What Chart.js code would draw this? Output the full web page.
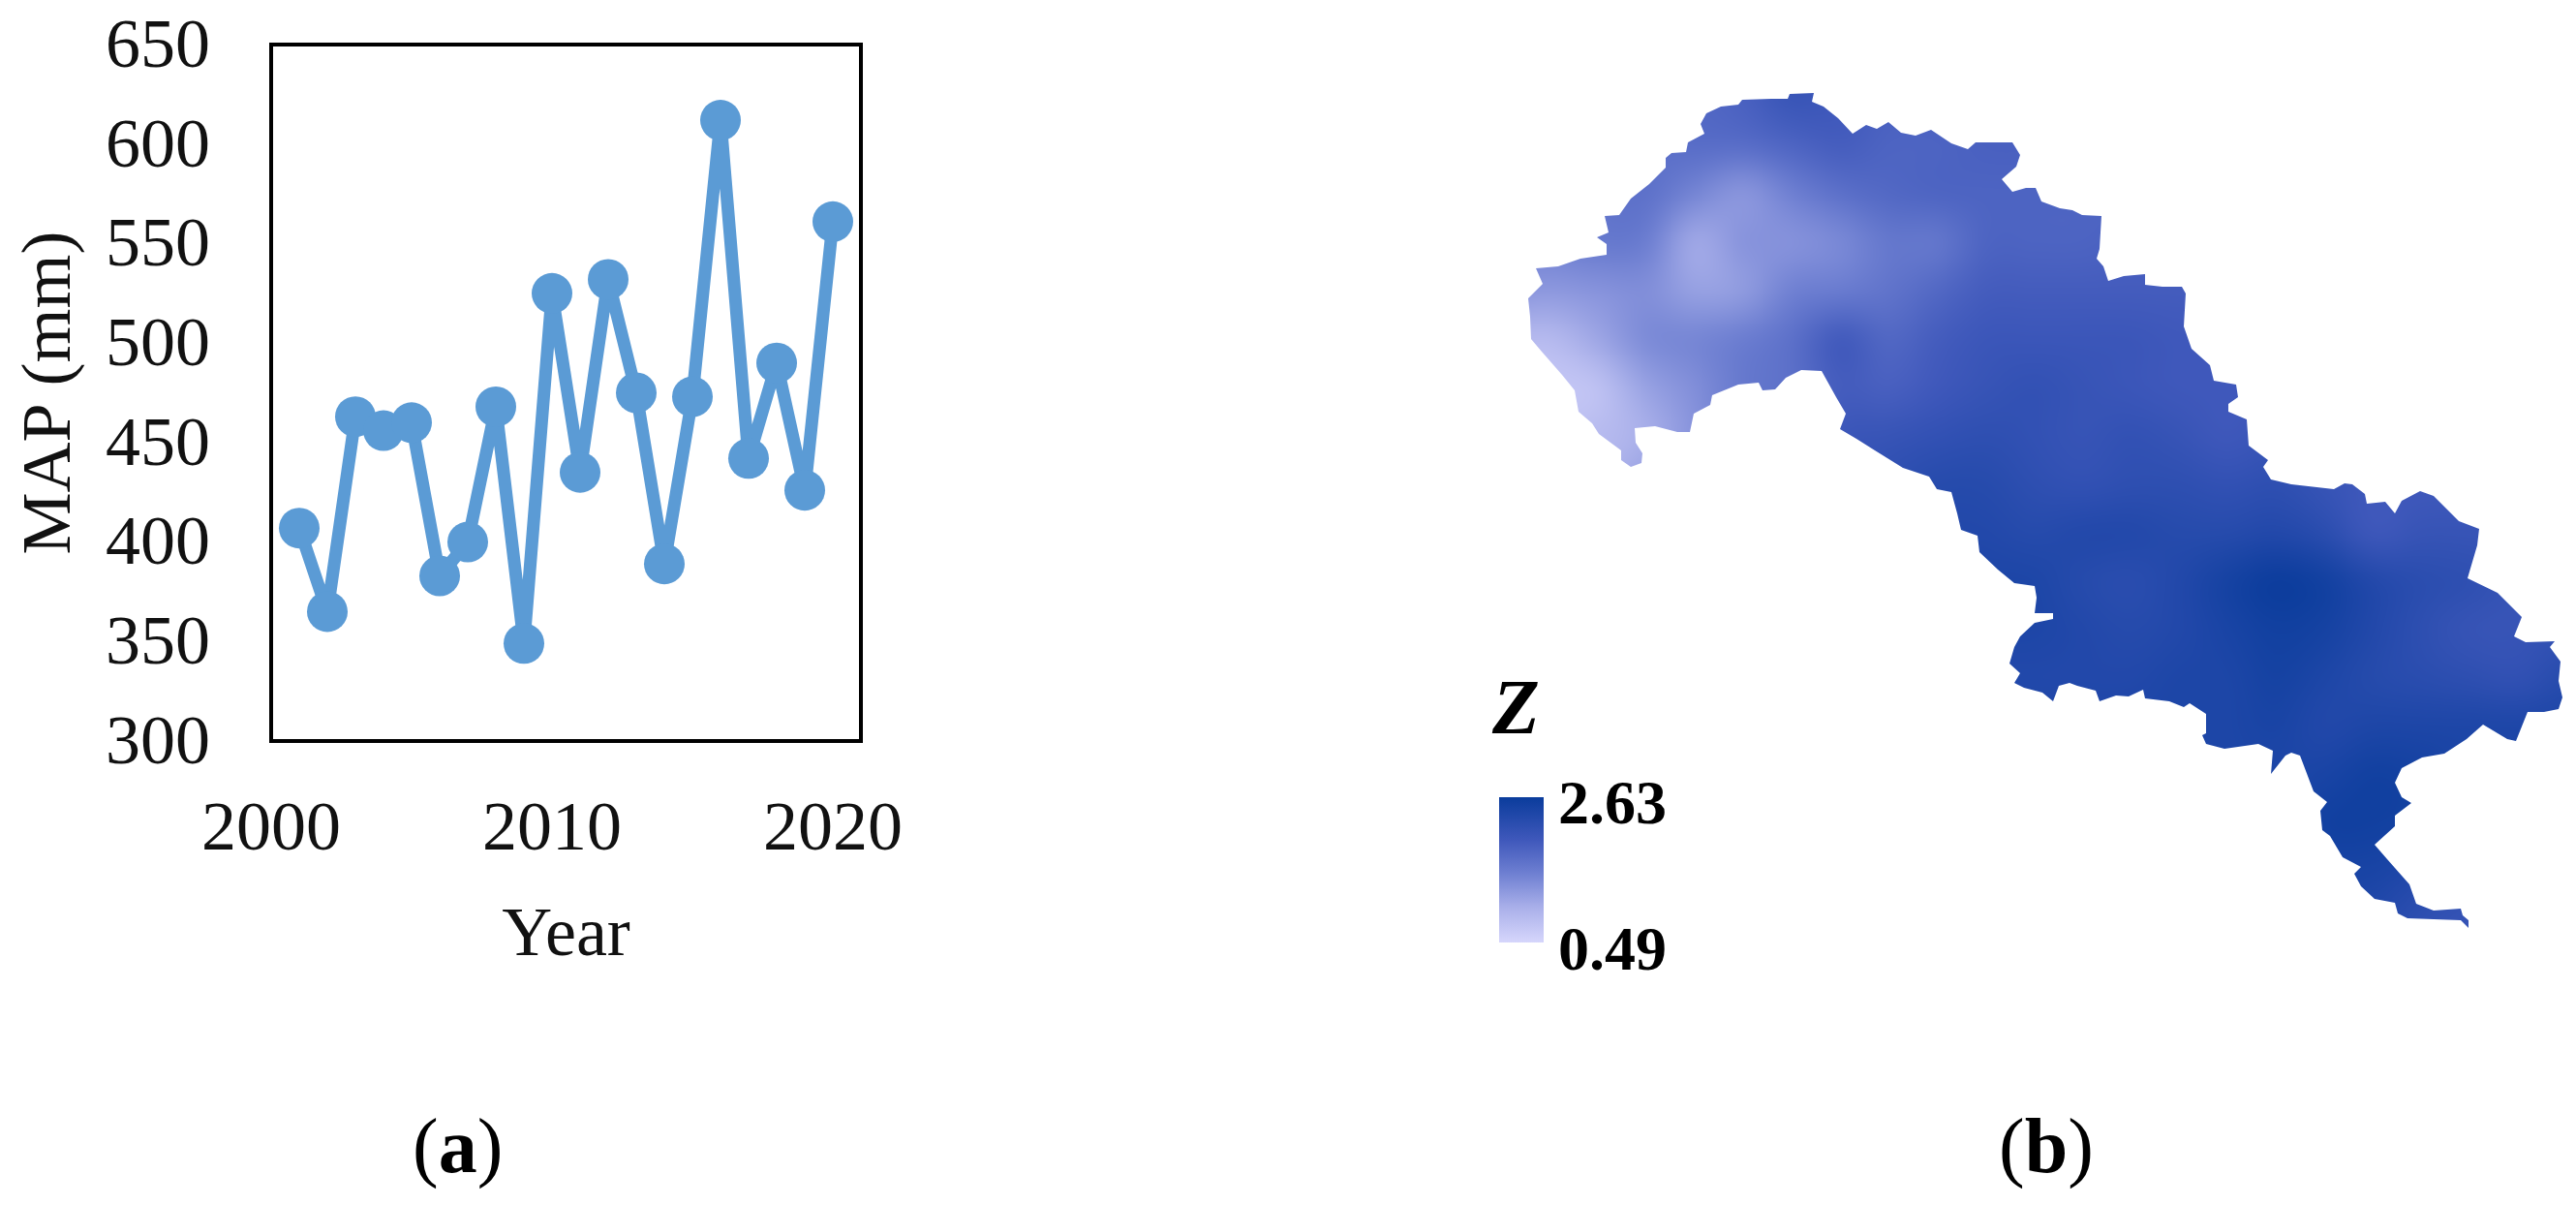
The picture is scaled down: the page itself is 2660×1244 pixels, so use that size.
<!DOCTYPE html>
<html>
<head>
<meta charset="utf-8">
<title>MAP and Z</title>
<script src="https://cdn.jsdelivr.net/npm/chart.js@4"></script>
<style>
  html, body { margin: 0; padding: 0; background: #fff; }
  body { position: relative; width: 2660px; height: 1244px; overflow: hidden; font-family: "Liberation Serif", serif; color: #000; }
  .box { position: absolute; }
  #boxA { left: 0; top: 0; width: 1000px; height: 1010px; }
  #boxB { left: 1500px; top: 60px; width: 1160px; height: 920px; }
  .lbl { position: absolute; line-height: 1; white-space: nowrap; }
  .cap { font-size: 80px; }
  .leg { font-size: 64px; font-weight: bold; }
  #capA { left: 426px; top: 1143px; }
  #capB { left: 2064px; top: 1143px; }
  #zName { left: 1541px; top: 690px; font-size: 80px; font-weight: bold; font-style: italic; }
  #zMax { left: 1609px; top: 797px; }
  #zMin { left: 1609px; top: 948px; }
  #zBar { position: absolute; left: 1548px; top: 823px; width: 46px; height: 150px; }
</style>
</head>
<body>
<div class="box" id="boxA"><canvas id="chartA"></canvas></div>
<div class="box" id="boxB"><canvas id="chartB"></canvas></div>
<div class="lbl cap" id="capA">(<b>a</b>)</div>
<div class="lbl cap" id="capB">(<b>b</b>)</div>
<div class="lbl" id="zName">Z</div>
<div id="zBar"></div>
<div class="lbl leg" id="zMax">2.63</div>
<div class="lbl leg" id="zMin">0.49</div>
<script>
// panel a
const years = [2001,2002,2003,2004,2005,2006,2007,2008,2009,2010,2011,2012,2013,2014,2015,2016,2017,2018,2019,2020];
const mapValues = [407,365,463,456,460,383,400,468,349,525,435,532,475,389,473,612,442,490,426,561];
const yearTicks = [2000,2010,2020];

// panel b: basin outline
const outlineX = [1848,1873,1871,1883,1898,1913,1927,1938,1950,1963,1978,1994,2015,2032,2040,2078,2086,2082,2067,2078,2092,2102,2108,2127,2140,2150,2170,2168,2165,2172,2177,2193,2215,2215,2233,2253,2257,2255,2263,2282,2286,2309,2311,2301,2301,2320,2322,2342,2337,2345,2366,2410,2421,2429,2442,2444,2463,2473,2480,2499,2513,2539,2560,2558,2553,2548,2579,2604,2596,2608,2638,2633,2644,2642,2646,2642,2627,2610,2598,2589,2579,2564,2547,2524,2501,2480,2473,2480,2490,2473,2473,2452,2465,2488,2495,2513,2541,2543,2549,2549,2541,2513,2486,2476,2473,2452,2438,2431,2438,2419,2406,2398,2396,2403,2389,2375,2366,2360,2345,2347,2332,2297,2278,2274,2278,2278,2261,2255,2240,2215,2213,2198,2185,2168,2164,2145,2137,2126,2120,2109,2090,2080,2086,2075,2080,2086,2101,2120,2120,2101,2103,2101,2080,2063,2044,2042,2025,2021,2015,2000,1992,1965,1936,1917,1900,1906,1896,1881,1860,1844,1833,1820,1816,1795,1768,1766,1749,1745,1732,1709,1688,1689,1696,1695,1684,1674,1674,1651,1644,1630,1626,1613,1592,1581,1580,1578,1593,1586,1609,1632,1659,1659,1649,1661,1657,1672,1684,1703,1720,1720,1726,1741,1743,1760,1756,1762,1777,1795,1799,1829,1846];
const outlineY = [97,96,105,110,122,138,129,133,126,137,140,134,148,154,147,147,160,172,185,198,194,194,208,215,217,222,223,257,267,275,290,285,283,294,296,296,303,337,360,377,393,397,410,417,425,433,460,475,482,495,500,505,499,500,510,520,518,530,517,507,512,538,546,563,580,597,612,637,657,663,662,668,683,703,720,732,735,735,765,763,757,748,763,778,782,793,808,823,829,842,853,872,887,913,933,940,938,945,950,958,950,949,948,943,932,928,915,902,895,885,863,857,837,828,817,780,777,780,799,775,768,773,768,759,757,737,726,730,724,721,712,719,718,724,713,708,705,708,724,715,710,705,695,685,668,657,643,639,633,633,617,605,602,588,570,553,547,530,508,505,492,483,465,453,443,427,410,383,382,390,402,403,395,397,408,418,427,446,446,440,442,457,468,478,482,475,465,448,437,425,403,387,363,350,327,308,293,277,275,267,263,252,245,240,223,222,205,190,173,163,158,157,147,138,128,117,110,108,103,102,102];

// Z, rows north to south, cells 50 apart
const zColumns = [1550,1600,1650,1700,1750,1800,1850,1900,1950,2000,2050,2100,2150,2200,2250,2300,2350,2400,2450,2500,2550,2600,2650];
const zRows = [100,150,200,250,300,350,400,450,500,550,600,650,700,750,800,850,900,950];
const zRow100 = [1.8,1.8,1.8,1.8,1.8,1.9,2.1,2.0,1.9,1.9,1.9,1.9,1.9,1.9,1.9,1.9,1.9,1.9,1.9,1.9,1.9,1.9,1.9];
const zRow150 = [1.7,1.7,1.7,1.7,1.75,1.75,1.85,1.95,1.85,1.85,1.9,1.9,1.9,1.9,1.9,1.9,1.9,1.9,1.9,1.9,1.9,1.9,1.9];
const zRow200 = [1.6,1.6,1.65,1.7,1.45,1.25,1.5,1.7,1.8,1.85,1.85,1.85,1.85,1.85,1.85,1.85,1.9,1.9,1.9,1.9,1.9,1.9,1.9];
const zRow250 = [1.5,1.5,1.6,1.55,1.05,1.3,1.3,1.4,1.6,1.6,1.85,1.85,1.85,1.9,1.9,1.9,1.9,1.9,1.9,1.9,1.9,1.9,1.9];
const zRow300 = [1.3,1.25,1.3,1.35,1.15,1.2,1.5,1.55,1.65,1.8,1.95,1.95,1.95,1.95,1.95,1.95,1.95,1.95,1.95,1.95,1.95,1.95,1.95];
const zRow350 = [0.9,0.85,1.1,1.4,1.45,1.55,1.7,2.0,1.8,1.95,2.05,2.05,2.05,2.05,2.0,2.0,2.0,2.0,2.0,2.0,2.0,2.0,2.0];
const zRow400 = [0.7,0.7,0.75,1.15,1.35,1.6,1.7,1.95,1.9,2.0,2.1,2.15,2.1,2.05,2.0,2.0,2.0,2.0,2.0,2.0,2.0,2.0,2.0];
const zRow450 = [0.8,0.8,0.85,1.0,1.3,1.6,1.8,2.05,2.1,2.15,2.2,2.15,2.1,2.15,2.1,2.0,2.1,2.1,2.0,2.0,2.0,2.0,2.0];
const zRow500 = [0.9,0.9,0.9,1.2,1.4,1.7,1.9,2.1,2.2,2.3,2.3,2.2,2.15,2.2,2.2,2.15,2.2,2.1,2.0,2.0,2.0,2.0,2.0];
const zRow550 = [1.0,1.0,1.0,1.3,1.6,1.8,2.0,2.2,2.3,2.35,2.35,2.3,2.35,2.35,2.3,2.3,2.35,2.25,2.0,2.1,2.1,2.1,2.1];
const zRow600 = [2.2,2.2,2.2,2.2,2.2,2.3,2.3,2.3,2.35,2.4,2.4,2.4,2.3,2.25,2.35,2.5,2.62,2.55,2.35,2.25,2.2,2.1,2.1];
const zRow650 = [2.3,2.3,2.3,2.3,2.3,2.3,2.3,2.35,2.4,2.4,2.4,2.4,2.35,2.3,2.35,2.45,2.55,2.5,2.35,2.2,2.1,2.1,2.15];
const zRow700 = [2.3,2.3,2.3,2.3,2.3,2.3,2.3,2.3,2.35,2.35,2.35,2.35,2.35,2.35,2.4,2.4,2.5,2.4,2.3,2.25,2.2,2.15,2.3];
const zRow750 = [2.4,2.4,2.4,2.4,2.4,2.4,2.4,2.4,2.4,2.4,2.4,2.4,2.4,2.4,2.4,2.4,2.45,2.35,2.4,2.4,2.4,2.4,2.4];
const zRow800 = [2.4,2.4,2.4,2.4,2.4,2.4,2.4,2.4,2.4,2.4,2.4,2.4,2.4,2.4,2.4,2.4,2.4,2.45,2.55,2.5,2.4,2.4,2.4];
const zRow850 = [2.4,2.4,2.4,2.4,2.4,2.4,2.4,2.4,2.4,2.4,2.4,2.4,2.4,2.4,2.4,2.4,2.4,2.55,2.55,2.5,2.4,2.4,2.4];
const zRow900 = [2.4,2.4,2.4,2.4,2.4,2.4,2.4,2.4,2.4,2.4,2.4,2.4,2.4,2.4,2.4,2.4,2.4,2.45,2.45,2.35,2.3,2.3,2.3];
const zRow950 = [2.4,2.4,2.4,2.4,2.4,2.4,2.4,2.4,2.4,2.4,2.4,2.4,2.4,2.4,2.4,2.4,2.4,2.4,2.35,2.2,2.1,2.1,2.1];
const zGrid = [zRow100,zRow150,zRow200,zRow250,zRow300,zRow350,zRow400,zRow450,zRow500,zRow550,zRow600,zRow650,zRow700,zRow750,zRow800,zRow850,zRow900,zRow950];

// colour ramp of the legend bar
const rampZ = [0.49,1.0,1.5,2.0,2.63];
const rampRGB = [[214,214,252],[170,176,234],[111,128,210],[63,88,187],[10,60,156]];

function zColor(z) {
  let i = 0;
  while (i < rampZ.length - 2 && z > rampZ[i + 1]) i++;
  const t = (z - rampZ[i]) / (rampZ[i + 1] - rampZ[i]);
  return rampRGB[i].map((c, k) => Math.round(c + (rampRGB[i + 1][k] - c) * t));
}

document.getElementById('zBar').style.background = 'linear-gradient(to top,' +
  rampZ.map((z, i) => `rgb(${rampRGB[i].join(',')}) ${(z - 0.49) / (2.63 - 0.49) * 100}%`).join(',') + ')';

// box round the plot area
const framePlugin = {
  id: 'frame',
  afterDraw(chart) {
    const a = chart.chartArea, ctx = chart.ctx;
    ctx.save();
    ctx.strokeStyle = '#000';
    ctx.lineWidth = 4;
    ctx.strokeRect(a.left, a.top, a.right - a.left, a.bottom - a.top);
    ctx.restore();
  }
};

// paints the Z grid inside the outline
const heatPlugin = {
  id: 'heat',
  beforeDatasetsDraw(chart) {
    const pts = chart.getDatasetMeta(0).data, ctx = chart.ctx;
    const sx = chart.scales.x, sy = chart.scales.y;
    const off = document.createElement('canvas');
    off.width = zColumns.length;
    off.height = zRows.length;
    const octx = off.getContext('2d');
    const img = octx.createImageData(off.width, off.height);
    zGrid.forEach((row, j) => row.forEach((z, i) => {
      const c = zColor(z), p = (j * off.width + i) * 4;
      img.data[p] = c[0]; img.data[p + 1] = c[1]; img.data[p + 2] = c[2]; img.data[p + 3] = 255;
    }));
    octx.putImageData(img, 0, 0);
    const x0 = sx.getPixelForValue(zColumns[0] - 25), x1 = sx.getPixelForValue(zColumns[zColumns.length - 1] + 25);
    const y0 = sy.getPixelForValue(zRows[0] - 25), y1 = sy.getPixelForValue(zRows[zRows.length - 1] + 25);
    ctx.save();
    ctx.beginPath();
    pts.forEach((p, i) => i ? ctx.lineTo(p.x, p.y) : ctx.moveTo(p.x, p.y));
    ctx.closePath();
    ctx.clip();
    ctx.imageSmoothingEnabled = true;
    ctx.imageSmoothingQuality = 'high';
    ctx.drawImage(off, x0, y0, x1 - x0, y1 - y0);
    ctx.restore();
  }
};

new Chart(document.getElementById('chartA'), {
  type: 'line',
  data: {
    datasets: [{
      data: years.map((y, i) => ({ x: y, y: mapValues[i] })),
      borderColor: '#5B9BD5',
      backgroundColor: '#5B9BD5',
      borderWidth: 13,
      borderJoinStyle: 'round',
      pointRadius: 21,
      pointBorderWidth: 0,
      tension: 0
    }]
  },
  options: {
    responsive: true,
    maintainAspectRatio: false,
    animation: false,
    layout: { padding: { top: 46, right: 111 } },
    plugins: { legend: { display: false }, tooltip: { enabled: false } },
    scales: {
      x: {
        type: 'linear', min: 2000, max: 2021,
        afterBuildTicks: s => { s.ticks = yearTicks.map(v => ({ value: v })); },
        afterFit: s => { s.height = 245; s.paddingLeft = 0; s.paddingRight = 0; },
        grid: { display: false }, border: { display: false },
        ticks: { padding: 42, maxRotation: 0, color: '#111', autoSkip: false, callback: v => String(v), font: { family: 'Liberation Serif', size: 72 } },
        title: { display: true, text: 'Year', color: '#111', font: { family: 'Liberation Serif', size: 72 }, padding: { top: 0, bottom: 0 } }
      },
      y: {
        min: 300, max: 650,
        afterFit: s => { s.width = 280; s.paddingTop = 0; s.paddingBottom = 0; },
        grid: { display: false }, border: { display: false },
        ticks: { stepSize: 50, padding: 55, labelOffset: 4, color: '#111', font: { family: 'Liberation Serif', size: 72 } },
        title: { display: true, text: 'MAP (mm)', color: '#111', font: { family: 'Liberation Serif', size: 72 }, padding: { top: 10, bottom: 0 } }
      }
    }
  },
  plugins: [framePlugin]
});

new Chart(document.getElementById('chartB'), {
  type: 'scatter',
  data: {
    datasets: [{
      data: outlineX.map((x, i) => ({ x: x, y: outlineY[i] })),
      showLine: false,
      pointRadius: 0
    }]
  },
  options: {
    responsive: true,
    maintainAspectRatio: false,
    animation: false,
    plugins: { legend: { display: false }, tooltip: { enabled: false } },
    scales: {
      x: { type: 'linear', display: false, min: 1500, max: 2660 },
      y: { type: 'linear', display: false, min: 60, max: 980, reverse: true }
    }
  },
  plugins: [heatPlugin]
});
</script>
</body>
</html>
